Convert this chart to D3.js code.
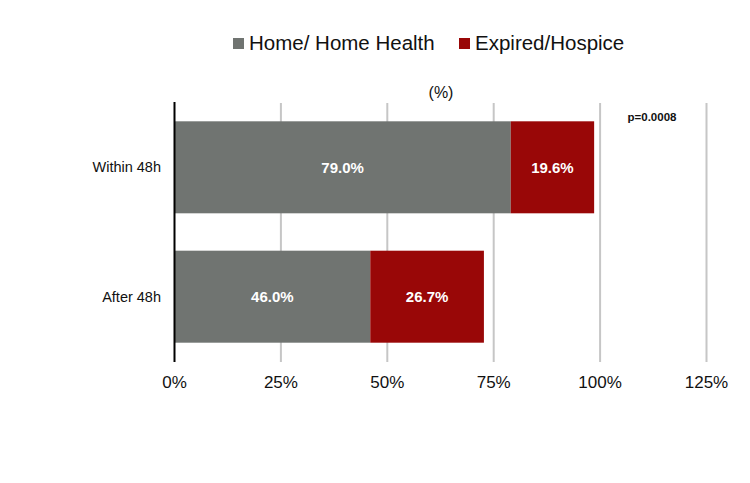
<!DOCTYPE html>
<html>
<head>
<meta charset="utf-8">
<script src="https://cdn.jsdelivr.net/npm/d3@7"></script>
<style>
  body { margin: 0; background: #fff; }
  text { font-family: "Liberation Sans", Arial, Helvetica, sans-serif; }
</style>
</head>
<body>
<div class="canvas"></div>
<script>
// data
const categories = ['Within 48h', 'After 48h']
const seriesNames = ['Home/ Home Health', 'Expired/Hospice']
const homeValues = [79.0, 46.0]
const expiredValues = [19.6, 26.7]
const xTicks = [0, 25, 50, 75, 100, 125]
const colors = ['#707471', '#990707']

const svg = d3.select('.canvas')
  .append('svg')
  .attr('width', 750)
  .attr('height', 483)

// scales
const x = d3.scaleLinear()
  .domain([0, 125])
  .range([174.5, 706.5])

const y = d3.scaleBand()
  .domain(categories)
  .range([103, 361])
  .paddingInner(0.289)
  .paddingOuter(0.1415)

// gridlines
svg.append('g')
  .selectAll('line')
  .data(xTicks.slice(1))
  .enter()
  .append('line')
  .attr('x1', d => x(d))
  .attr('x2', d => x(d))
  .attr('y1', 103)
  .attr('y2', 362)
  .attr('stroke', '#c6c6c6')
  .attr('stroke-width', 2)

// stacked bars
const stacked = categories.map((c, i) => ({ cat: c, vals: [homeValues[i], expiredValues[i]] }))
const rows = svg.append('g')
  .selectAll('g')
  .data(stacked)
  .enter()
  .append('g')

rows.each(function(d) {
  let start = 0
  d.vals.forEach((v, j) => {
    const g = d3.select(this)
    g.append('rect')
      .attr('x', x(start))
      .attr('y', y(d.cat))
      .attr('width', x(start + v) - x(start))
      .attr('height', y.bandwidth())
      .attr('fill', colors[j])
    g.append('text')
      .attr('x', (x(start) + x(start + v)) / 2)
      .attr('y', y(d.cat) + y.bandwidth() / 2)
      .attr('dy', '0.35em')
      .attr('text-anchor', 'middle')
      .attr('fill', 'white')
      .attr('font-weight', 'bold')
      .attr('font-size', 15)
      .text(v.toFixed(1) + '%')
    start += v
  })
})

// axis line
svg.append('line')
  .attr('x1', x(0))
  .attr('x2', x(0))
  .attr('y1', 102)
  .attr('y2', 362)
  .attr('stroke', '#000')
  .attr('stroke-width', 2)

// x tick labels
svg.append('g')
  .selectAll('text')
  .data(xTicks)
  .enter()
  .append('text')
  .attr('x', d => x(d))
  .attr('y', 388)
  .attr('text-anchor', 'middle')
  .attr('font-size', 17)
  .attr('fill', '#111')
  .text(d => d + '%')

// category labels
svg.append('g')
  .selectAll('text')
  .data(categories)
  .enter()
  .append('text')
  .attr('x', 161)
  .attr('y', d => y(d) + y.bandwidth() / 2)
  .attr('dy', '0.35em')
  .attr('text-anchor', 'end')
  .attr('font-size', 14.5)
  .attr('fill', '#111')
  .text(d => d)

// unit label
svg.append('text')
  .attr('x', 441)
  .attr('y', 98)
  .attr('text-anchor', 'middle')
  .attr('font-size', 16)
  .attr('fill', '#111')
  .text('(%)')

// p-value
svg.append('text')
  .attr('x', 652)
  .attr('y', 121)
  .attr('text-anchor', 'middle')
  .attr('font-size', 11.5)
  .attr('font-weight', 'bold')
  .attr('fill', '#111')
  .text('p=0.0008')

// legend
const legendX = [233, 459]
const legend = svg.append('g')
  .selectAll('g')
  .data(seriesNames)
  .enter()
  .append('g')
  .attr('transform', (d, i) => `translate(${legendX[i]}, 38)`)

legend.append('rect')
  .attr('width', 11)
  .attr('height', 11)
  .attr('fill', (d, i) => colors[i])

legend.append('text')
  .attr('x', 16)
  .attr('y', 12)
  .attr('font-size', 20.5)
  .attr('fill', '#111')
  .text(d => d)
</script>
</body>
</html>
